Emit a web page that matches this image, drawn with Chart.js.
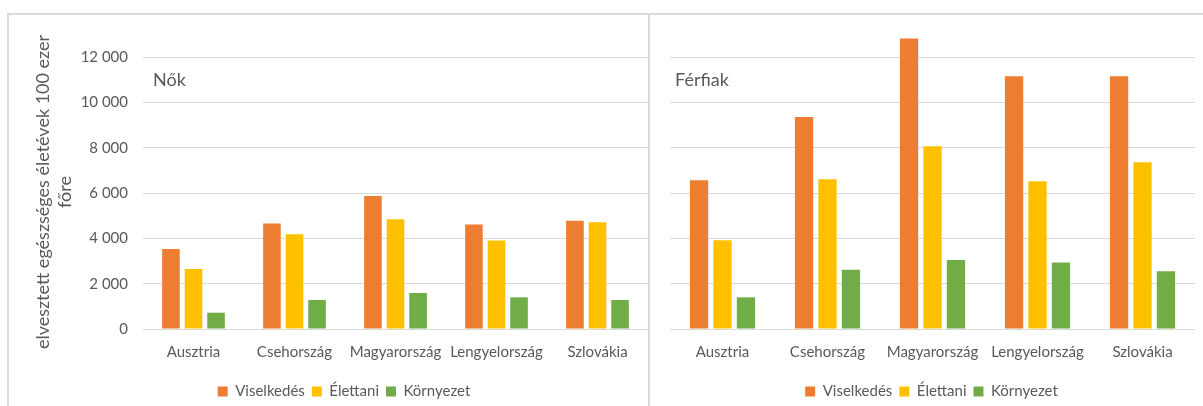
<!DOCTYPE html>
<html>
<head>
<meta charset="utf-8">
<script src="https://cdn.jsdelivr.net/npm/chart.js@4"></script>
<style>
body{margin:0;background:#fff;}
#wrap{position:relative;width:1203px;height:406px;overflow:hidden;}
.line{position:absolute;background:#dadada;}
.panel{position:absolute;top:0;height:406px;}
</style>
</head>
<body>
<div id="wrap">
<div class="line" style="left:7px;top:13px;width:1196px;height:2px;"></div>
<div class="line" style="left:7px;top:13px;width:2px;height:393px;"></div>
<div class="line" style="left:648px;top:13px;width:2px;height:393px;"></div>
<div class="panel" style="left:0;width:648px;"><canvas id="nok"></canvas></div>
<div class="panel" style="left:650px;width:553px;"><canvas id="ferfi"></canvas></div>
</div>
<script>
const categories = ["Ausztria","Csehország","Magyarország","Lengyelország","Szlovákia"];
const seriesNames = ["Viselkedés","Élettani","Környezet"];

// Nők
const nokViselkedes = [3530, 4660, 5870, 4620, 4780];
const nokElettani = [2650, 4190, 4850, 3910, 4710];
const nokKornyezet = [720, 1280, 1590, 1400, 1280];

// Férfiak
const ferfiViselkedes = [6570, 9360, 12830, 11160, 11160];
const ferfiElettani = [3925, 6615, 8070, 6530, 7365];
const ferfiKornyezet = [1400, 2615, 3045, 2940, 2545];

const yTicks = [0, 2000, 4000, 6000, 8000, 10000, 12000];
const yTitle = ["elvesztett egészséges életévek 100 ezer", "főre"];

const colors = ["#ED7D31","#FFC000","#70AD47"];
const textColor = "#595959";
const gridColor = "#d9d9d9";
const font = "Lato";

function fmt(v){
return String(v).replace(/\B(?=(\d{3})+(?!\d))/g," ");
}

const panelTitle = {
id:"panelTitle",
afterDraw(chart,args,opts){
const ctx = chart.ctx;
ctx.save();
ctx.fillStyle = textColor;
ctx.font = "18px " + font;
ctx.textBaseline = "middle";
ctx.textAlign = "left";
ctx.fillText(opts.text, chart.chartArea.left + opts.dx, 80);
if(opts.yTitle){
ctx.textAlign = "center";
opts.yTitle.forEach((t,i)=>{
ctx.save();
ctx.translate(opts.yTitleX + i*22, 192);
ctx.rotate(-Math.PI/2);
ctx.fillText(t,0,0);
ctx.restore();
});
}
ctx.restore();
}
};

// legend position tweak
const legendShift = {
id:"legendShift",
afterLayout(chart,args,opts){
const lg = chart.legend;
lg.left += opts.dx;
lg.right += opts.dx;
lg.top += opts.dy;
lg.bottom += opts.dy;
}
};

function buildConfig(vals, showTicks, yWidth, padRight, title, dx, legendDx){
return{
type:"bar",
data:{
labels:categories,
datasets:vals.map((d,i)=>({
label:seriesNames[i],
data:d,
backgroundColor:colors[i],
barPercentage:0.78,
categoryPercentage:0.67
}))
},
options:{
responsive:true,
maintainAspectRatio:false,
animation:false,
layout:{padding:{top:12,bottom:0,left:0,right:padRight}},
plugins:{
legend:{
position:"bottom",
labels:{boxWidth:10,boxHeight:10,padding:7,color:textColor,font:{family:font,size:15}}
},
tooltip:{enabled:false},
panelTitle:{text:title,dx:dx,yTitle:showTicks?yTitle:null,yTitleX:43},
legendShift:{dx:legendDx,dy:3}
},
scales:{
x:{
grid:{display:false},
border:{display:false},
ticks:{color:textColor,font:{family:font,size:15},padding:6,maxRotation:0,autoSkip:false},
afterFit(s){s.height=45;}
},
y:{
min:0,
max:14000,
afterBuildTicks(s){s.ticks=yTicks.concat([14000]).map(v=>({value:v}));},
grid:{drawTicks:false,color:c=>c.tick&&c.tick.value>12000?"rgba(0,0,0,0)":gridColor},
border:{display:false},
ticks:{display:showTicks,color:textColor,font:{family:font,size:15},padding:15,
callback:v=>v>12000?"":fmt(v)},
afterFit(s){
s.width=yWidth;
s.paddingTop=0;
s.paddingBottom=0;
}
}
}
},
plugins:[panelTitle,legendShift]
};
}

new Chart(document.getElementById("nok"),
buildConfig([nokViselkedes,nokElettani,nokKornyezet],true,143,0,"Nők",10,20));
new Chart(document.getElementById("ferfi"),
buildConfig([ferfiViselkedes,ferfiElettani,ferfiKornyezet],false,20,8,"Férfiak",5,9));
</script>
</body>
</html>
